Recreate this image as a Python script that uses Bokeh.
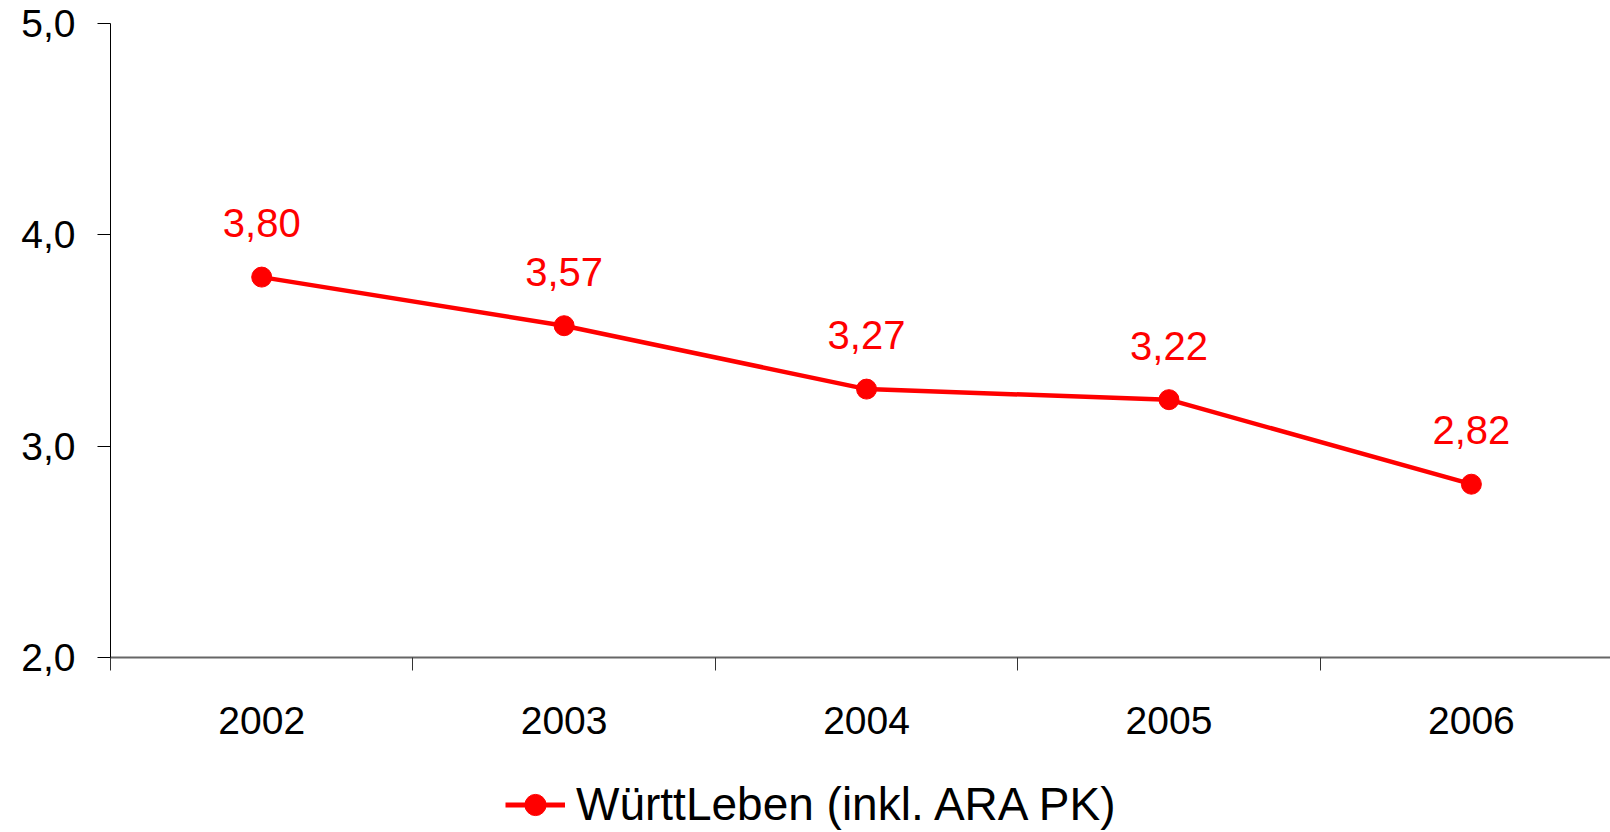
from bokeh.plotting import figure
from bokeh.layouts import column
from bokeh.models import (ColumnDataSource, Range1d, FixedTicker, Legend, LegendItem, LabelSet)
from bokeh.core.properties import value
from bokeh.embed import file_html
from bokeh.resources import INLINE

years = ["2002", "2003", "2004", "2005", "2006"]
values = [3.80, 3.57, 3.27, 3.22, 2.82]
value_labels = ["3,80", "3,57", "3,27", "3,22", "2,82"]
y_ticks = [2.0, 3.0, 4.0, 5.0]
y_tick_labels = ["2,0", "3,0", "4,0", "5,0"]
series_name = "WürttLeben (inkl. ARA PK)"

FONT = "Liberation Sans"
RED = "#FF0000"

xs = list(range(len(years)))
src = ColumnDataSource(data=dict(x=xs, y=values, lab=value_labels))

p = figure(width=1610, height=757, output_backend="svg", toolbar_location=None,
           x_range=Range1d(-0.5, 4.46), y_range=Range1d(2.0, 5.0),
           min_border_left=110, min_border_right=0, min_border_top=23, min_border_bottom=100)
p.outline_line_color = None
p.grid.visible = False
p.background_fill_color = "white"
p.border_fill_color = "white"

line = p.line("x", "y", source=src, line_color=RED, line_width=4.5)
dots = p.scatter("x", "y", source=src, size=20, fill_color=RED, line_color=RED)

labels = LabelSet(x="x", y="y", text="lab", source=src, y_offset=54,
                  text_align="center", text_baseline="middle",
                  text_font=value(FONT), text_font_size="40px", text_color=RED)
p.add_layout(labels)

# x axis: labels at category centres, tick marks at category boundaries
xa = p.xaxis[0]
xa.ticker = FixedTicker(ticks=xs, minor_ticks=[i - 0.5 for i in range(len(years) + 1)])
xa.major_label_overrides = {i: y for i, y in zip(xs, years)}
xa.major_tick_out = 0
xa.major_tick_in = 0
xa.minor_tick_out = 13
xa.minor_tick_in = 0
xa.minor_tick_line_color = "#333333"
xa.axis_line_color = "#666666"
xa.axis_line_width = 2
xa.major_label_text_font = FONT
xa.major_label_text_font_size = "39px"
xa.major_label_text_color = "black"
xa.major_label_standoff = 36

ya = p.yaxis[0]
ya.ticker = FixedTicker(ticks=y_ticks, minor_ticks=[])
ya.major_label_overrides = {t: l for t, l in zip(y_ticks, y_tick_labels)}
ya.major_tick_out = 13
ya.major_tick_in = 0
ya.axis_line_color = "black"
ya.major_tick_line_color = "black"
ya.major_label_text_font = FONT
ya.major_label_text_font_size = "39px"
ya.major_label_text_color = "black"
ya.major_label_standoff = 22

# legend strip below the chart (same series, drawn outside this strip's view)
lg = figure(width=1610, height=75, output_backend="svg", toolbar_location=None,
            x_range=Range1d(100, 101), y_range=Range1d(100, 101),
            x_axis_location=None, y_axis_location=None,
            min_border_left=0, min_border_right=0, min_border_top=0, min_border_bottom=0)
lg.grid.visible = False
lg.outline_line_color = None
lg.border_fill_color = "white"
l_line = lg.line("x", "y", source=src, line_color=RED, line_width=5)
l_dots = lg.scatter("x", "y", source=src, size=20, fill_color=RED, line_color=RED)

legend = Legend(items=[LegendItem(label=series_name, renderers=[l_line, l_dots])],
                orientation="horizontal", location=(395, 1),
                label_text_font=FONT, label_text_font_size="46px", label_text_color="black",
                glyph_width=60, glyph_height=53, border_line_alpha=0,
                background_fill_alpha=0, padding=0, margin=0, spacing=0,
                label_standoff=11)
lg.add_layout(legend)

layout = column(p, lg, spacing=0)
open("out.html", "w").write(file_html(layout, INLINE))
